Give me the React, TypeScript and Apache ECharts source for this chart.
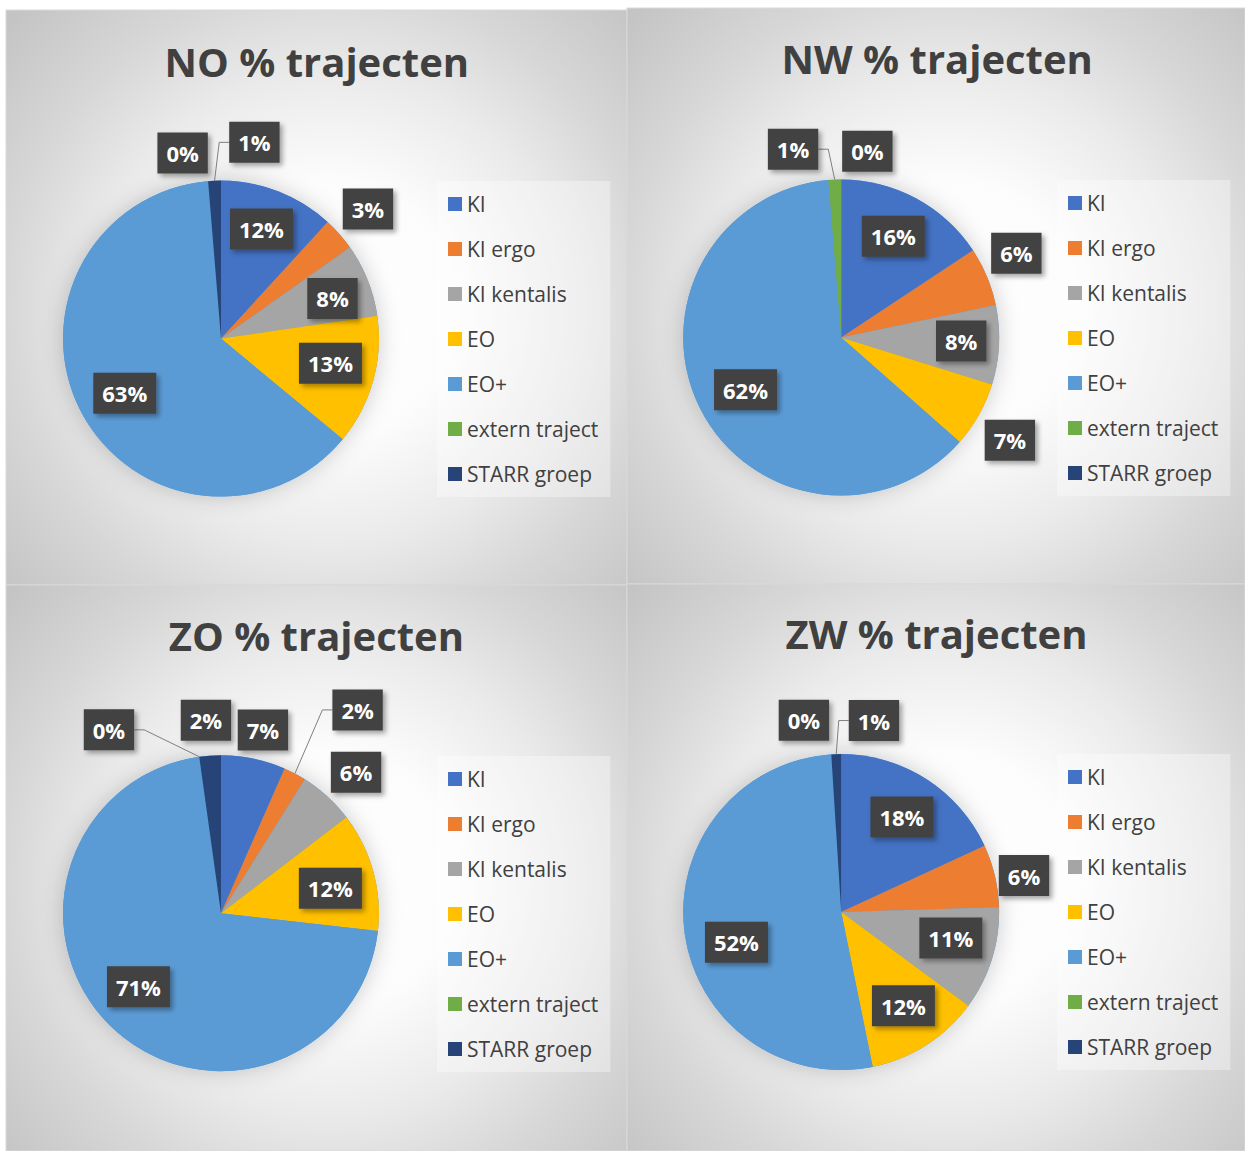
import React, { useEffect, useRef } from 'react';
import * as echarts from 'echarts';

const CATEGORIES = ['KI', 'KI ergo', 'KI kentalis', 'EO', 'EO+', 'extern traject', 'STARR groep'];
const COLORS = ['#4472C4', '#ED7D31', '#A5A5A5', '#FFC000', '#5B9BD5', '#70AD47', '#264478'];
const TITLES = ['NO % trajecten', 'NW % trajecten', 'ZO % trajecten', 'ZW % trajecten'];

// percentages per region, in category order
const NO_VALUES = [11.8, 3.4, 7.5, 13.3, 62.7, 0, 1.3];
const NW_VALUES = [15.7, 6.0, 8.1, 6.7, 62.2, 1.3, 0];
const ZO_VALUES = [6.6, 2.3, 5.7, 12.2, 71.0, 0, 2.2];
const ZW_VALUES = [18.1, 6.4, 10.6, 11.7, 52.2, 0, 1.0];

// label placement (layout only): [radius factor, angle shift in degrees, leader line]
const NO_LABELS = [[0.74, -1, 0], [1.24, 0, 0], [0.75, 2, 0], [0.71, -3, 0], [0.7, -2, 0], [1.2, -7, 0], [1.26, 12, 1]];
const NW_LABELS = [[0.72, -1, 0], [1.23, -3, 0], [0.76, -1, 0], [1.25, 2, 0], [0.69, -2, 0], [1.23, -12, 1], [1.19, 8, 0]];
const ZO_LABELS = [[1.19, 1, 0], [1.55, 6, 1], [1.235, 1.5, 0], [0.71, 2.6, 0], [0.7, 4, 0], [1.36, -23.5, 1], [1.225, -0.5, 0]];
const ZW_LABELS = [[0.714, 0, 0], [1.18, 2, 0], [0.713, -4, 0], [0.712, -1, 0], [0.69, -8.5, 0], [1.237, -7.4, 0], [1.23, 11.5, 1]];

const R = 158;
const FONT = '"Open Sans", "Noto Sans", sans-serif';

const PANELS = [
  { title: TITLES[0], values: NO_VALUES, labels: NO_LABELS, box: [6, 10, 621, 575], center: [221, 338.6], titlePos: [316.8, 61], legendPos: [437, 181] },
  { title: TITLES[1], values: NW_VALUES, labels: NW_LABELS, box: [627, 8, 618, 576], center: [841.2, 337.5], titlePos: [937.2, 58.6], legendPos: [1057, 180] },
  { title: TITLES[2], values: ZO_VALUES, labels: ZO_LABELS, box: [6, 585, 621, 566], center: [221, 913.2], titlePos: [316.4, 635.7], legendPos: [437, 756] },
  { title: TITLES[3], values: ZW_VALUES, labels: ZW_LABELS, box: [627, 584, 618, 567], center: [841.2, 912.1], titlePos: [936.5, 633.9], legendPos: [1057, 754] },
];

function buildOption() {
  const graphics: any[] = [];
  const legends: any[] = [];
  const series: any[] = [];

  PANELS.forEach((p) => {
    const [bx, by, bw, bh] = p.box;
    graphics.push({
      type: 'rect',
      z: 0,
      silent: true,
      shape: { x: bx, y: by, width: bw, height: bh },
      style: {
        fill: {
          type: 'radial',
          x: bx + bw * 0.52,
          y: by + bh * 0.52,
          r: 430,
          global: true,
          colorStops: [
            { offset: 0, color: '#ffffff' },
            { offset: 0.3, color: '#fcfcfc' },
            { offset: 0.55, color: '#eaeaea' },
            { offset: 0.75, color: '#d7d7d7' },
            { offset: 1, color: '#c4c4c4' },
          ],
        },
        stroke: '#d9d9d9',
        lineWidth: 1,
      },
    });
    graphics.push({
      type: 'text',
      z: 10,
      silent: true,
      x: p.titlePos[0],
      y: p.titlePos[1],
      style: {
        text: p.title,
        fill: '#404040',
        fontFamily: FONT,
        fontWeight: 'bold',
        fontSize: 40,
        textAlign: 'center',
        textVerticalAlign: 'middle',
        align: 'center',
        verticalAlign: 'middle',
      },
    });

    legends.push({
      orient: 'vertical',
      left: p.legendPos[0],
      top: p.legendPos[1],
      data: CATEGORIES,
      icon: 'rect',
      itemWidth: 14,
      itemHeight: 14,
      itemGap: 21,
      padding: [11, 12, 11, 11],
      backgroundColor: 'rgba(255,255,255,0.35)',
      selectedMode: false,
      textStyle: { fontFamily: FONT, fontSize: 21, color: '#404040', lineHeight: 24 },
      itemStyle: { borderWidth: 0 },
    });

    const [cx, cy] = p.center;
    const values = p.values;
    const total = values.reduce((a, b) => a + b, 0);

    series.push({
      type: 'pie',
      silent: true,
      z: 1,
      center: [cx, cy],
      radius: R,
      label: { show: false },
      labelLine: { show: false },
      data: [{ value: 1, name: 'shadow', itemStyle: { color: '#5B9BD5', shadowBlur: 22, shadowColor: 'rgba(0,0,0,0.2)' } }],
    });

    series.push({
      type: 'pie',
      z: 2,
      center: [cx, cy],
      radius: R,
      startAngle: 90,
      clockwise: true,
      avoidLabelOverlap: false,
      emphasis: { disabled: true },
      itemStyle: { borderWidth: 0 },
      label: {
        show: true,
        position: 'outside',
        formatter: (prm: any) => Math.round(prm.value) + '%',
        color: '#ffffff',
        fontFamily: FONT,
        fontWeight: 'bold',
        fontSize: 22,
        lineHeight: 23,
        backgroundColor: '#424242',
        padding: [9, 9, 9, 9],
        shadowColor: 'rgba(0,0,0,0.35)',
        shadowBlur: 5,
        shadowOffsetX: 3,
        shadowOffsetY: 3,
      },
      labelLine: { show: false, length: 10, length2: 10, lineStyle: { color: '#7f7f7f', width: 1 } },
      labelLayout: (params: any) => {
        const i = params.dataIndex;
        const place = p.labels[i];
        const f = place[0];
        const shift = place[1];
        const leader = place[2];
        let before = 0;
        for (let j = 0; j < i; j++) before += values[j];
        const midDeg = ((before + values[i] / 2) / total) * 360;
        const a = ((midDeg + shift) * Math.PI) / 180;
        const x = cx + f * R * Math.sin(a);
        const y = cy - f * R * Math.cos(a);
        const out: any = { x, y, align: 'center', verticalAlign: 'middle' };
        if (leader) {
          const m = (midDeg * Math.PI) / 180;
          const ax = cx + R * Math.sin(m);
          const ay = cy - R * Math.cos(m);
          const w = params.labelRect ? params.labelRect.width : 49;
          const side = x > ax ? -1 : 1;
          const ex = x + (side * w) / 2;
          out.labelLinePoints = [[ax, ay], [ex + side * 10, y], [ex, y]];
        }
        return out;
      },
      data: CATEGORIES.map((name, i) => ({
        name,
        value: values[i],
        itemStyle: { color: COLORS[i] },
        labelLine: { show: !!p.labels[i][2] },
      })),
    });
  });

  return {
    animation: false,
    backgroundColor: '#ffffff',
    textStyle: { fontFamily: FONT },
    graphic: { elements: graphics },
    legend: legends,
    series,
  };
}

export default function App() {
  const ref = useRef<HTMLDivElement>(null);
  useEffect(() => {
    if (!ref.current) return;
    const chart = echarts.init(ref.current, null, { renderer: 'svg' });
    chart.setOption(buildOption() as any);
    return () => chart.dispose();
  }, []);
  return <div ref={ref} style={{ position: 'absolute', left: 0, top: 0, width: 1245, height: 1151 }} />;
}
